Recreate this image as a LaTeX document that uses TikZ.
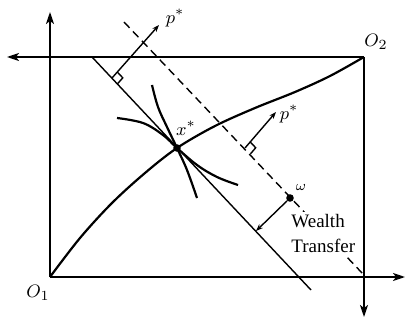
\documentclass[tikz,border=0pt]{standalone}
\usepackage{fontspec}
\setmainfont{Liberation Serif}
\usetikzlibrary{arrows.meta,calc}
\begin{document}
\begin{tikzpicture}[x=0.5pt,y=-0.5pt,
 axis/.style={line width=0.9pt,-{Stealth[length=6pt,width=4pt,inset=1.5pt]}},
 bline/.style={line width=0.7pt},
 curve/.style={line width=1.1pt},
 parrow/.style={line width=0.7pt,-{Stealth[length=3.5pt,width=2.6pt]}},
 dot/.style={circle,fill,inner sep=0pt,minimum size=3.8pt},
 lbl/.style={font=\fontsize{9.5}{11}\selectfont,inner sep=0pt}]
\useasboundingbox (0,0) rectangle (406,320);
% axes
\coordinate (O1) at (50,277);
\coordinate (O2) at (364,57);
\coordinate (Ytip) at (50,12);
\coordinate (Xtip) at (405,277);
\coordinate (Ltip) at (7,57);
\coordinate (Dtip) at (364,317);
\draw[axis] (O1) -- (Ytip);
\draw[axis] (O1) -- (Xtip);
\draw[axis] (O2) -- (Ltip);
\draw[axis] (O2) -- (Dtip);
% budget line and dashed line
\coordinate (B1) at (92,57);
\coordinate (B2) at (311,290);
\draw[bline] (B1) -- (B2);
\coordinate (D1) at (124,22);
\coordinate (D2) at (363,274);
\draw[bline,dash pattern=on 4pt off 2.5pt] (D1) -- (D2);
% contract curve
\coordinate (X) at (177,148);
\draw[curve] plot[smooth,tension=0.55] coordinates {(50,277) (80,238) (112,203) (145,173) (X) (215,126) (255,108) (295,92) (330,76) (364,57)};
% indifference curves
\draw[curve] plot[smooth,tension=0.6] coordinates {(117,118) (143,123) (163,135) (X) (197,165) (217,177) (238,185)};
\draw[curve] plot[smooth,tension=0.6] coordinates {(152,85) (158,107) (167,127) (X) (187,170) (197,198)};
\node[dot] (xs) at (X) {};
% upper price normal
\coordinate (F1) at (112,78);
\coordinate (T1) at (159,25);
\draw[parrow] (F1) -- (T1);
\coordinate (a1) at ($(F1)!4pt!(T1)$);
\coordinate (b1) at ($(F1)!4pt!(B2)$);
\draw[bline] (a1) -- ($(a1)+(b1)-(F1)$) -- (b1);
% lower price normal
\coordinate (F2) at (245,148);
\coordinate (T2) at (276,112);
\draw[parrow] (F2) -- (T2);
\coordinate (a2) at ($(F2)!4pt!(T2)$);
\coordinate (b2) at ($(F2)!4pt!(D2)$);
\draw[bline] (a2) -- ($(a2)+(b2)-(F2)$) -- (b2);
% endowment and wealth transfer
\node[dot] (w) at (290,198) {};
\coordinate (W2) at (256,231);
\draw[parrow] (w) -- (W2);
% labels
\node[lbl] (o1) at (38,293) {$O_1$};
\node[lbl] (o2) at (376,42) {$O_2$};
\node[lbl] (xl) at (186,128) {$x^*$};
\node[lbl] (p1) at (175,18) {$p^*$};
\node[lbl] (p2) at (289,114) {$p^*$};
\node[lbl,font=\fontsize{7}{8}\selectfont] (wl) at (301,187) {$\omega$};
\node[lbl,anchor=west,align=left,fill=white,inner sep=1.5pt,
      font=\fontsize{9.5}{12.5}\selectfont] (wt) at (288,234) {Wealth\\Transfer};
\end{tikzpicture}
\end{document}
